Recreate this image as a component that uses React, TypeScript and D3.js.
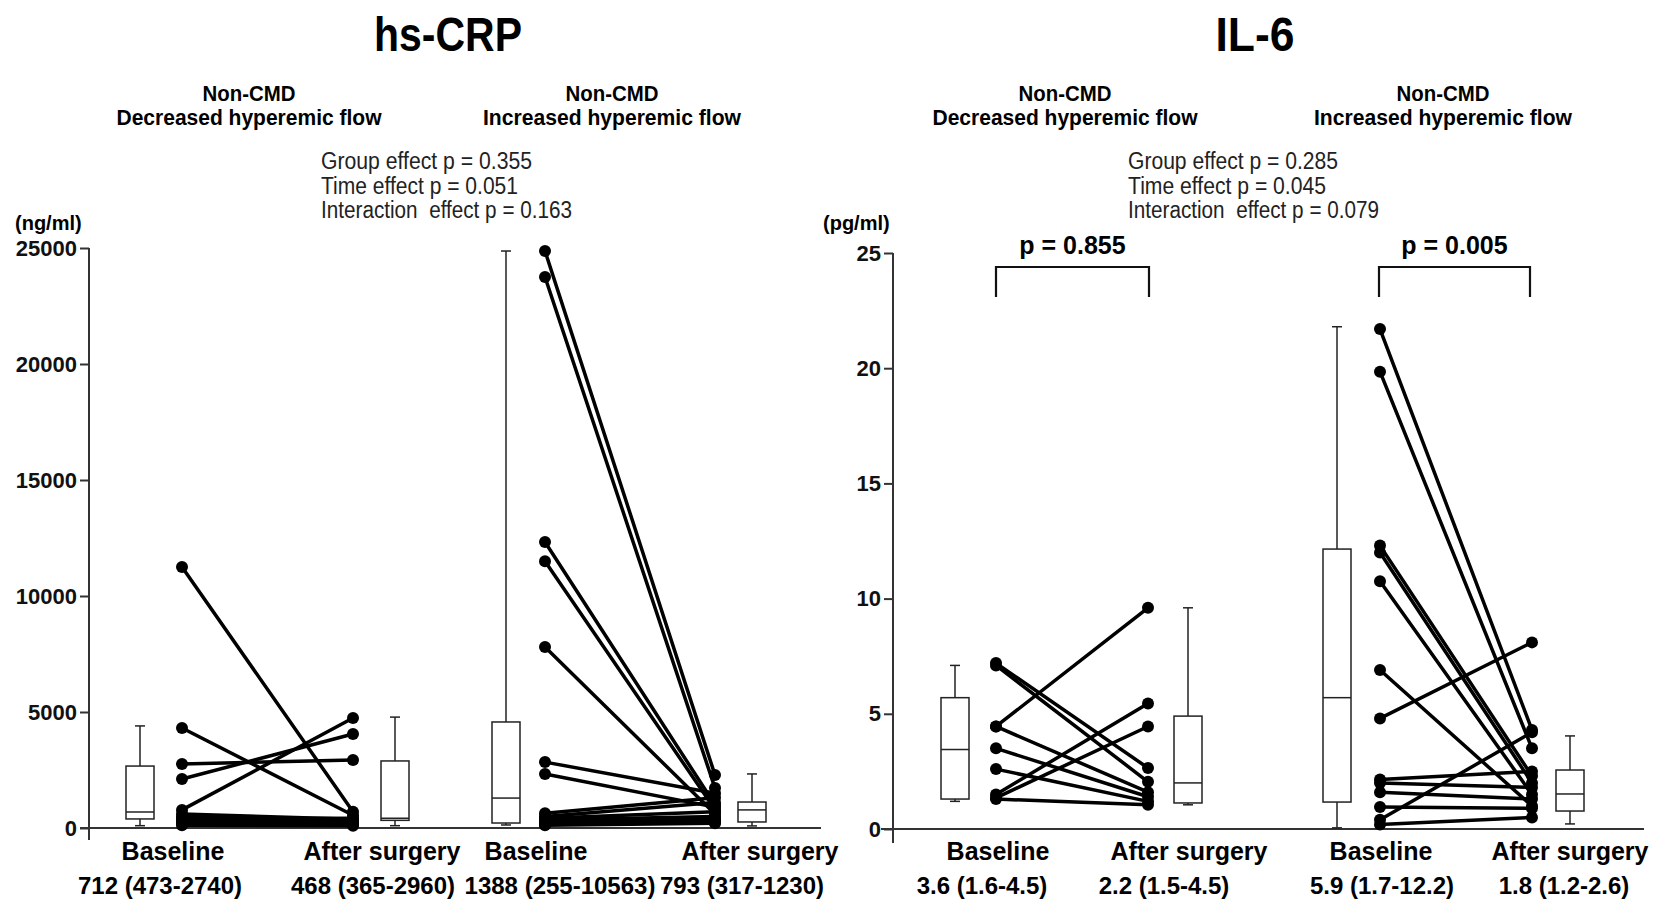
import React, { useEffect, useRef } from "react";
import * as d3 from "d3";

// ---------- DATA ----------
const crpTicks = [0, 5000, 10000, 15000, 20000, 25000];
const il6Ticks = [0, 5, 10, 15, 20, 25];

const timeLabels = ["Baseline", "After surgery"];
const groupLine1 = ["Non-CMD", "Non-CMD"];
const groupLine2 = ["Decreased hyperemic flow", "Increased hyperemic flow"];

const crpStatLabels = ["712 (473-2740)", "468 (365-2960)", "1388 (255-10563)", "793 (317-1230)"];
const il6StatLabels = ["3.6 (1.6-4.5)", "2.2 (1.5-4.5)", "5.9 (1.7-12.2)", "1.8 (1.2-2.6)"];

const crpEffects = ["Group effect p = 0.355", "Time effect p = 0.051", "Interaction  effect p = 0.163"];
const il6Effects = ["Group effect p = 0.285", "Time effect p = 0.045", "Interaction  effect p = 0.079"];
const il6PairP = ["p = 0.855", "p = 0.005"];

// paired subject values (ng/ml)
const crpDecBaseline = [11250, 4310, 2760, 2110, 780, 600, 480, 400, 330, 250, 180, 120];
const crpDecAfter = [700, 550, 2930, 4050, 4740, 380, 300, 420, 250, 200, 150, 100];
const crpIncBaseline = [24870, 23750, 12330, 11500, 7800, 2840, 2330, 640, 500, 420, 350, 300, 250, 200, 150, 120];
const crpIncAfter = [2280, 1720, 1000, 800, 600, 1500, 900, 1300, 1100, 700, 500, 400, 350, 300, 250, 200];

// paired subject values (pg/ml)
const il6DecBaseline = [7.2, 7.1, 4.45, 4.45, 3.5, 2.6, 1.5, 1.35, 1.3];
const il6DecAfter = [2.65, 2.05, 9.6, 1.6, 1.4, 1.2, 5.45, 4.45, 1.05];
const il6IncBaseline = [21.7, 19.85, 12.3, 12.0, 10.75, 6.9, 4.8, 2.15, 2.0, 1.6, 0.95, 0.4, 0.2];
const il6IncAfter = [4.3, 3.5, 2.3, 2.0, 1.5, 1.0, 8.1, 2.5, 1.8, 1.3, 0.9, 4.2, 0.5];

// box stats: [min, q1, median, q3, max]
const crpDecBaselineBox = [100, 390, 690, 2670, 4400];
const crpDecAfterBox = [100, 330, 420, 2890, 4780];
const crpIncBaselineBox = [130, 215, 1290, 4570, 24870];
const crpIncAfterBox = [90, 260, 780, 1120, 2330];
const il6DecBaselineBox = [1.2, 1.3, 3.45, 5.7, 7.1];
const il6DecAfterBox = [1.05, 1.13, 2.0, 4.9, 9.6];
const il6IncBaselineBox = [0.05, 1.17, 5.7, 12.15, 21.8];
const il6IncAfterBox = [0.22, 0.78, 1.52, 2.56, 4.04];

// ---------- LAYOUT ----------
const FONT = "'Liberation Sans', Arial, Helvetica, sans-serif";

const panels = [
  {
    title: "hs-CRP",
    titleX: 448,
    titleLen: 148,
    unit: "(ng/ml)",
    unitX: 15,
    max: 25000,
    ticks: crpTicks,
    yBottom: 828,
    yTop: 248,
    axisX: 89,
    axisEnd: 840,
    xAxisFrom: 80,
    xAxisTo: 821,
    boxX: [140, 395, 506, 752],
    boxes: [crpDecBaselineBox, crpDecAfterBox, crpIncBaselineBox, crpIncAfterBox],
    dotX: [[182, 353], [545, 715]],
    pairs: [[crpDecBaseline, crpDecAfter], [crpIncBaseline, crpIncAfter]],
    timeX: [173, 382, 536, 760],
    statX: [160, 373, 560, 742],
    stats: crpStatLabels,
    groupX: [249, 612],
    groupLens: [[93, 265], [93, 258]],
    effects: crpEffects,
    effectsX: 321,
    effectLens: [211, 197, 251],
    brackets: null as null | number[][],
  },
  {
    title: "IL-6",
    titleX: 1255,
    titleLen: 79,
    unit: "(pg/ml)",
    unitX: 823,
    max: 25,
    ticks: il6Ticks,
    yBottom: 829,
    yTop: 253,
    axisX: 893,
    axisEnd: 843,
    xAxisFrom: 881,
    xAxisTo: 1644,
    boxX: [955, 1188, 1337, 1570],
    boxes: [il6DecBaselineBox, il6DecAfterBox, il6IncBaselineBox, il6IncAfterBox],
    dotX: [[996, 1148], [1380, 1532]],
    pairs: [[il6DecBaseline, il6DecAfter], [il6IncBaseline, il6IncAfter]],
    timeX: [998, 1189, 1381, 1570],
    statX: [982, 1164, 1382, 1564],
    stats: il6StatLabels,
    groupX: [1065, 1443],
    groupLens: [[93, 265], [93, 258]],
    effects: il6Effects,
    effectsX: 1128,
    effectLens: [210, 198, 251],
    brackets: [[996, 1149], [1379, 1530]],
  },
];

function drawPanel(svg: any, p: any) {
  const g = svg.append("g");
  const y = d3.scaleLinear().domain([0, p.max]).range([p.yBottom, p.yTop]);

  // title
  g.append("text")
    .attr("x", p.titleX)
    .attr("y", 51)
    .attr("text-anchor", "middle")
    .attr("font-family", FONT)
    .attr("font-weight", "bold")
    .attr("font-size", 49)
    .attr("textLength", p.titleLen)
    .attr("lengthAdjust", "spacingAndGlyphs")
    .text(p.title);

  // group subtitles
  p.groupX.forEach((gx: number, i: number) => {
    g.append("text").attr("x", gx).attr("y", 101).attr("text-anchor", "middle")
      .attr("font-family", FONT).attr("font-weight", "bold").attr("font-size", 22)
      .attr("textLength", p.groupLens[i][0]).attr("lengthAdjust", "spacingAndGlyphs")
      .text(groupLine1[i]);
    g.append("text").attr("x", gx).attr("y", 125).attr("text-anchor", "middle")
      .attr("font-family", FONT).attr("font-weight", "bold").attr("font-size", 22)
      .attr("textLength", p.groupLens[i][1]).attr("lengthAdjust", "spacingAndGlyphs")
      .text(groupLine2[i]);
  });

  // effects
  p.effects.forEach((t: string, i: number) => {
    g.append("text").attr("x", p.effectsX).attr("y", 169 + i * 24.5)
      .attr("font-family", FONT).attr("font-size", 23).attr("fill", "#222")
      .attr("textLength", p.effectLens[i]).attr("lengthAdjust", "spacingAndGlyphs")
      .attr("xml:space", "preserve")
      .text(t);
  });

  // unit
  g.append("text").attr("x", p.unitX).attr("y", 230)
    .attr("font-family", FONT).attr("font-weight", "bold").attr("font-size", 20)
    .text(p.unit);

  // y axis
  const axis = d3.axisLeft(y).tickValues(p.ticks).tickSize(9).tickSizeOuter(0).tickPadding(3)
    .tickFormat((d: any) => String(d));
  const ag = g.append("g").attr("transform", `translate(${p.axisX},0)`).call(axis);
  ag.select(".domain").remove();
  ag.selectAll(".tick line").attr("stroke", "#333").attr("stroke-width", 2);
  ag.selectAll(".tick text").attr("font-family", FONT).attr("font-weight", "bold")
    .attr("font-size", 22).attr("fill", "#111");
  g.append("line").attr("x1", p.axisX).attr("x2", p.axisX).attr("y1", y(p.max)).attr("y2", p.axisEnd)
    .attr("stroke", "#333").attr("stroke-width", 2);
  // x axis
  g.append("line").attr("x1", p.xAxisFrom).attr("x2", p.xAxisTo).attr("y1", y(0)).attr("y2", y(0))
    .attr("stroke", "#333").attr("stroke-width", 2);

  // boxes
  const bw = 28;
  const cw = 10;
  p.boxes.forEach((b: number[], i: number) => {
    const cx = p.boxX[i];
    const bg = g.append("g").attr("stroke", "#222").attr("stroke-width", 1.5).attr("fill", "none");
    bg.append("line").attr("x1", cx).attr("x2", cx).attr("y1", y(b[4])).attr("y2", y(b[3]));
    bg.append("line").attr("x1", cx).attr("x2", cx).attr("y1", y(b[1])).attr("y2", y(b[0]));
    bg.append("line").attr("x1", cx - cw / 2).attr("x2", cx + cw / 2).attr("y1", y(b[4])).attr("y2", y(b[4]));
    bg.append("line").attr("x1", cx - cw / 2).attr("x2", cx + cw / 2).attr("y1", y(b[0])).attr("y2", y(b[0]));
    bg.append("rect").attr("x", cx - bw / 2).attr("width", bw).attr("y", y(b[3]))
      .attr("height", y(b[1]) - y(b[3])).attr("fill", "#fff");
    bg.append("line").attr("x1", cx - bw / 2).attr("x2", cx + bw / 2).attr("y1", y(b[2])).attr("y2", y(b[2]));
  });

  // paired lines and dots
  p.pairs.forEach((pr: number[][], gi: number) => {
    const [xb, xa] = p.dotX[gi];
    const [base, after] = pr;
    const lg = g.append("g");
    base.forEach((v: number, i: number) => {
      lg.append("line").attr("x1", xb).attr("y1", y(v)).attr("x2", xa).attr("y2", y(after[i]))
        .attr("stroke", "#000").attr("stroke-width", 3.5).attr("stroke-linecap", "round");
    });
    base.forEach((v: number, i: number) => {
      lg.append("circle").attr("cx", xb).attr("cy", y(v)).attr("r", 6).attr("fill", "#000");
      lg.append("circle").attr("cx", xa).attr("cy", y(after[i])).attr("r", 6).attr("fill", "#000");
    });
  });

  // brackets
  if (p.brackets) {
    p.brackets.forEach((br: number[], i: number) => {
      g.append("path")
        .attr("d", `M${br[0]},297 V267 H${br[1]} V297`)
        .attr("fill", "none").attr("stroke", "#111").attr("stroke-width", 2.2);
      g.append("text").attr("x", (br[0] + br[1]) / 2).attr("y", 254).attr("text-anchor", "middle")
        .attr("font-family", FONT).attr("font-weight", "bold").attr("font-size", 25)
        .text(il6PairP[i]);
    });
  }

  // x labels
  p.timeX.forEach((tx: number, i: number) => {
    g.append("text").attr("x", tx).attr("y", 860).attr("text-anchor", "middle")
      .attr("font-family", FONT).attr("font-weight", "bold").attr("font-size", 25)
      .text(timeLabels[i % 2]);
  });
  p.statX.forEach((sx: number, i: number) => {
    g.append("text").attr("x", sx).attr("y", 894).attr("text-anchor", "middle")
      .attr("font-family", FONT).attr("font-weight", "bold").attr("font-size", 24)
      .text(p.stats[i]);
  });
}

export default function App() {
  const ref = useRef<SVGSVGElement>(null);
  useEffect(() => {
    const svg = d3.select(ref.current);
    svg.selectAll("*").remove();
    panels.forEach((p) => drawPanel(svg, p));
  }, []);
  return (
    <svg
      ref={ref}
      width={1654}
      height={903}
      style={{ position: "absolute", left: 0, top: 0, background: "#fff" }}
    />
  );
}
